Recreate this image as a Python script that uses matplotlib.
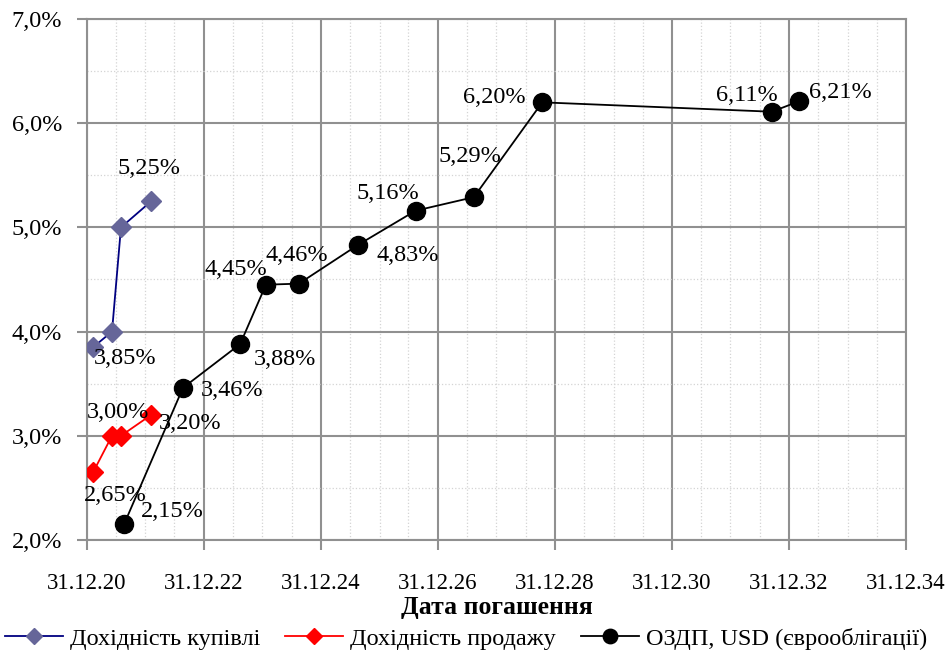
import matplotlib
matplotlib.use("Agg")
import matplotlib.pyplot as plt
import matplotlib.dates as mdates
import pandas as pd

plt.rcParams["font.family"] = ["Liberation Serif", "DejaVu Serif"]

# Дохідність купівлі
buy_dates = ["2021-02-07", "2021-06-05", "2021-07-31", "2022-02-04"]
buy_vals = [3.85, 4.00, 5.00, 5.25]

# Дохідність продажу
sell_dates = ["2021-02-07", "2021-06-05", "2021-07-31", "2022-02-04"]
sell_vals = [2.65, 3.00, 3.00, 3.20]

# ОЗДП, USD (єврооблігації)
ozdp_dates = ["2021-08-19", "2022-08-22", "2023-08-14", "2024-01-22", "2024-08-15",
              "2025-08-17", "2026-08-13", "2027-08-12", "2028-10-12", "2032-09-15",
              "2033-03-03"]
ozdp_vals = [2.15, 3.46, 3.88, 4.45, 4.46, 4.83, 5.16, 5.29, 6.20, 6.11, 6.21]

# label offsets (pixels), None = no label
buy_offsets = [(32, -11), None, None, (-2, 33)]
sell_offsets = [(22, -23), (6, 23), None, (39, -9)]
ozdp_offsets = [(48, 13), (49, -3), (45, -15), (-30, 15), (-2, 28), (50, -10),
                (-28, 17), (-4, 41), (-48, 5), (-25, 16), (41, 9)]

LABEL_SIZE = 17.5

fig = plt.figure(figsize=(9.51, 6.52), dpi=100)
ax = fig.add_axes([0.0915, 0.1718, 0.8612, 0.7991])


def fmt(v):
    return f"{v:.2f}%".replace(".", ",")


def draw(dates, vals, offsets, line_color, marker, mfc, ms, label):
    d = pd.to_datetime(dates)
    ax.plot(d, vals, color=line_color, lw=1.3, marker=marker, ms=ms,
            mfc=mfc, mec=mfc, label=label, zorder=3)
    for x, y, off in zip(d, vals, offsets):
        if off is None:
            continue
        ax.annotate(fmt(y), (x, y), xytext=off, textcoords="offset pixels",
                    ha="center", va="center", fontsize=LABEL_SIZE, zorder=4)


draw(buy_dates, buy_vals, buy_offsets, "#000080", "D", "#666699", 10, "Дохідність купівлі")
draw(sell_dates, sell_vals, sell_offsets, "#FF0000", "D", "#FF0000", 10, "Дохідність продажу")
draw(ozdp_dates, ozdp_vals, ozdp_offsets, "black", "o", "black", 13, "ОЗДП, USD (єврооблігації)")

ax.set_xlim(pd.Timestamp("2020-12-31"), pd.Timestamp("2034-12-31"))
ax.set_ylim(2.0, 7.0)

major_x = [pd.Timestamp(f"{y}-12-31") for y in range(2020, 2035, 2)]
minor_x = pd.date_range("2020-12-31", "2034-12-31", freq="6ME")
ax.set_xticks(major_x)
ax.set_xticks(minor_x, minor=True)
ax.xaxis.set_major_formatter(mdates.DateFormatter("%d.%m.%y"))
ax.set_yticks([2, 3, 4, 5, 6, 7])
ax.set_yticks([2.5, 3.5, 4.5, 5.5, 6.5], minor=True)
ax.set_yticklabels([f"{v:.1f}%".replace(".", ",") for v in [2, 3, 4, 5, 6, 7]])

ax.grid(which="major", color="#909090", lw=1.5)
ax.grid(which="minor", color="#d4d4d4", lw=0.9, ls=":")
ax.set_axisbelow(True)
for s in ax.spines.values():
    s.set_color("#909090")
    s.set_linewidth(1.5)

ax.tick_params(axis="both", which="major", color="#909090",
               width=1.5, length=7, direction="out")
ax.tick_params(axis="x", which="major", labelsize=16.5, pad=17)
ax.tick_params(axis="y", which="major", labelsize=17.5, pad=11)
ax.tick_params(which="minor", length=0)

ax.set_xlabel("Дата погашення", fontsize=18.5, fontweight="bold", labelpad=1)

fig.legend(loc="lower center", bbox_to_anchor=(0.49, -0.03), ncol=3, frameon=False,
           fontsize=17.5, handlelength=2.4, columnspacing=1.0, handletextpad=0.3,
           markerscale=0.8)

fig.savefig("out.png", dpi=100)
